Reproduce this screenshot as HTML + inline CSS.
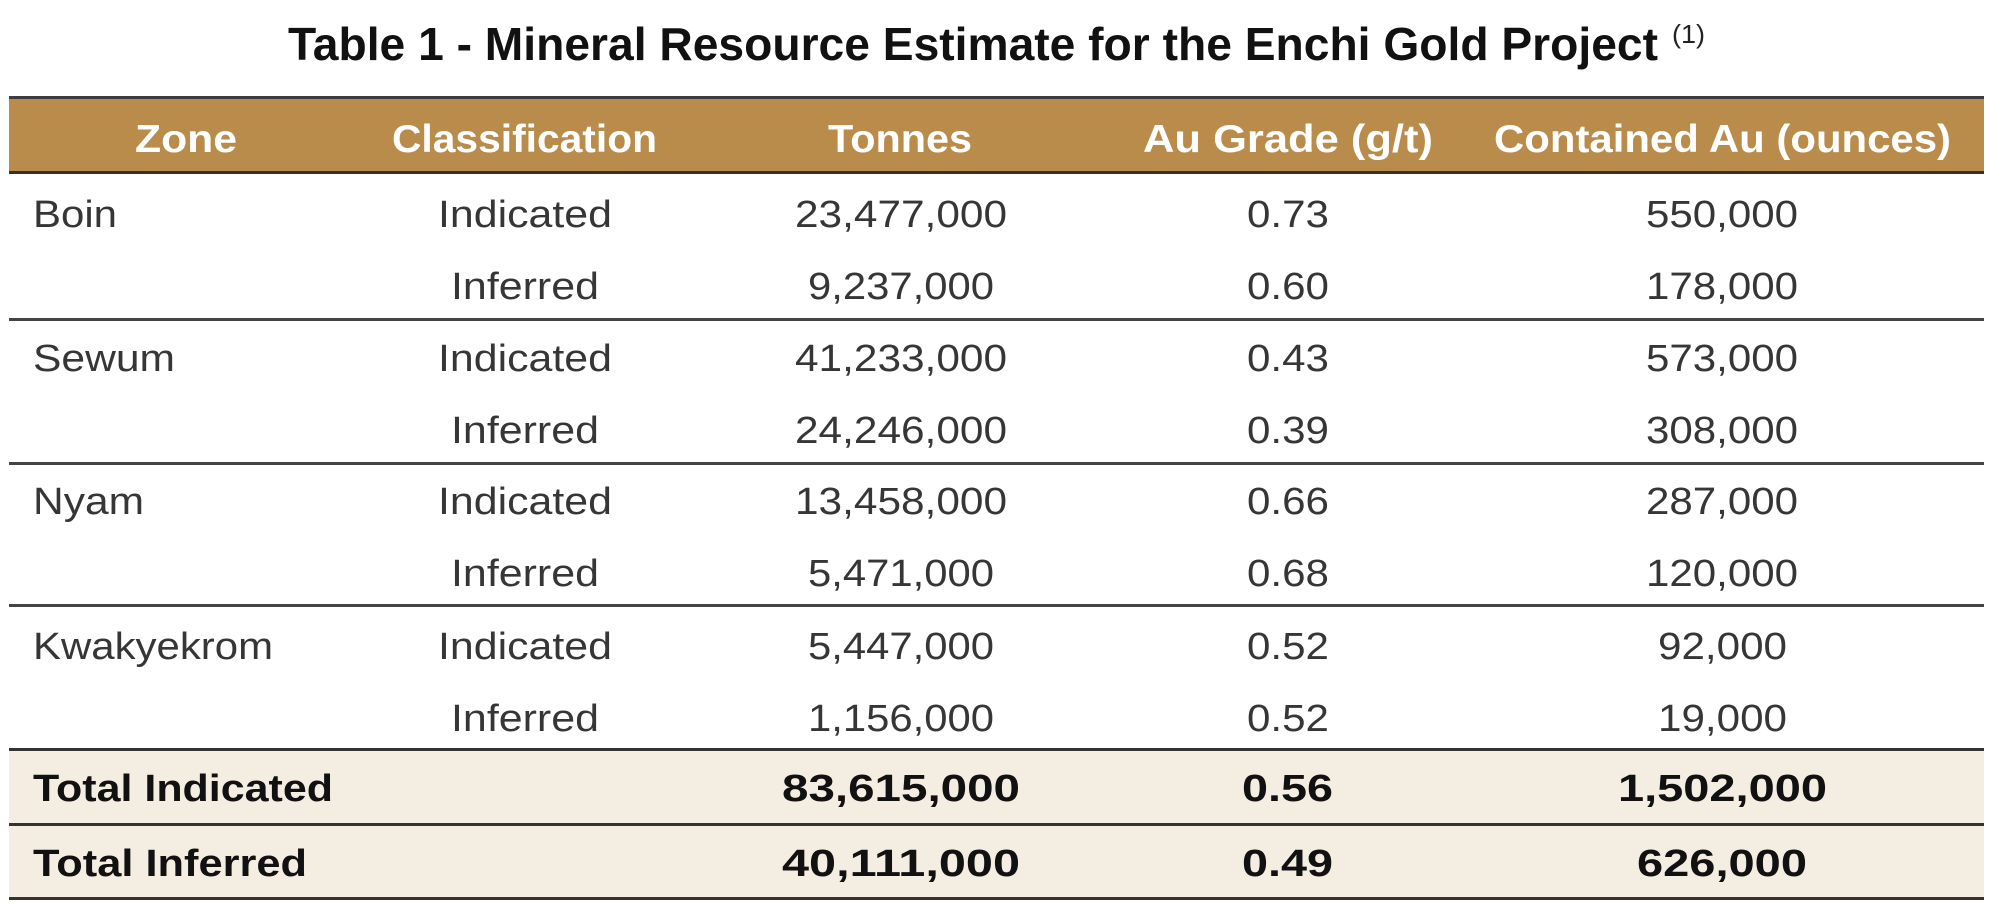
<!DOCTYPE html>
<html>
<head>
<meta charset="utf-8">
<style>
  html, body { margin: 0; padding: 0; background: #ffffff; }
  body { width: 1990px; height: 906px; overflow: hidden; }
  svg { display: block; }
  .t { font-family: "Liberation Sans", Arial, sans-serif; }
  .reg { font-size: 38px; fill: #363636; }
  .bld { font-size: 38px; font-weight: bold; fill: #111111; }
  .hdr { font-size: 39px; font-weight: bold; fill: #ffffff; }
</style>
</head>
<body>
<svg width="1990" height="906" viewBox="0 0 1990 906" xmlns="http://www.w3.org/2000/svg">
  <rect x="0" y="0" width="1990" height="906" fill="#ffffff"/>

  <!-- Title -->
  <text class="t" x="288" y="60" font-size="46" font-weight="bold" fill="#111" textLength="1370" lengthAdjust="spacingAndGlyphs">Table 1 - Mineral Resource Estimate for the Enchi Gold Project</text>
  <text class="t" x="1672" y="43" font-size="26" fill="#222" textLength="33" lengthAdjust="spacingAndGlyphs">(1)</text>

  <!-- Header band -->
  <rect x="9" y="96" width="1975" height="78" fill="#BA8C4B"/>
  <rect x="9" y="96" width="1975" height="3" fill="#3c3c3c"/>
  <rect x="9" y="171" width="1975" height="3" fill="#3a3024"/>

  <text class="t hdr" x="135" y="152" textLength="102" lengthAdjust="spacingAndGlyphs">Zone</text>
  <text class="t hdr" x="392" y="152" textLength="265" lengthAdjust="spacingAndGlyphs">Classification</text>
  <text class="t hdr" x="828" y="152" textLength="144" lengthAdjust="spacingAndGlyphs">Tonnes</text>
  <text class="t hdr" x="1143" y="152" textLength="290" lengthAdjust="spacingAndGlyphs">Au Grade (g/t)</text>
  <text class="t hdr" x="1494" y="152" textLength="457" lengthAdjust="spacingAndGlyphs">Contained Au (ounces)</text>

  <!-- Totals background -->
  <rect x="9" y="750" width="1975" height="150" fill="#F4EEE2"/>

  <!-- Separator lines -->
  <rect x="9" y="318" width="1975" height="3" fill="#444"/>
  <rect x="9" y="462" width="1975" height="3" fill="#444"/>
  <rect x="9" y="604" width="1975" height="3" fill="#444"/>
  <rect x="9" y="748" width="1975" height="3" fill="#333"/>
  <rect x="9" y="823" width="1975" height="3" fill="#333"/>
  <rect x="9" y="897" width="1975" height="3" fill="#333"/>

  <!-- Boin -->
  <text class="t reg" x="33" y="227" textLength="84" lengthAdjust="spacingAndGlyphs">Boin</text>
  <text class="t reg" x="438" y="227" textLength="174" lengthAdjust="spacingAndGlyphs">Indicated</text>
  <text class="t reg" x="795" y="227" textLength="212" lengthAdjust="spacingAndGlyphs">23,477,000</text>
  <text class="t reg" x="1247" y="227" textLength="82" lengthAdjust="spacingAndGlyphs">0.73</text>
  <text class="t reg" x="1646" y="227" textLength="152" lengthAdjust="spacingAndGlyphs">550,000</text>

  <text class="t reg" x="451" y="299" textLength="148" lengthAdjust="spacingAndGlyphs">Inferred</text>
  <text class="t reg" x="808" y="299" textLength="186" lengthAdjust="spacingAndGlyphs">9,237,000</text>
  <text class="t reg" x="1247" y="299" textLength="82" lengthAdjust="spacingAndGlyphs">0.60</text>
  <text class="t reg" x="1646" y="299" textLength="152" lengthAdjust="spacingAndGlyphs">178,000</text>

  <!-- Sewum -->
  <text class="t reg" x="33" y="371" textLength="142" lengthAdjust="spacingAndGlyphs">Sewum</text>
  <text class="t reg" x="438" y="371" textLength="174" lengthAdjust="spacingAndGlyphs">Indicated</text>
  <text class="t reg" x="795" y="371" textLength="212" lengthAdjust="spacingAndGlyphs">41,233,000</text>
  <text class="t reg" x="1247" y="371" textLength="82" lengthAdjust="spacingAndGlyphs">0.43</text>
  <text class="t reg" x="1646" y="371" textLength="152" lengthAdjust="spacingAndGlyphs">573,000</text>

  <text class="t reg" x="451" y="443" textLength="148" lengthAdjust="spacingAndGlyphs">Inferred</text>
  <text class="t reg" x="795" y="443" textLength="212" lengthAdjust="spacingAndGlyphs">24,246,000</text>
  <text class="t reg" x="1247" y="443" textLength="82" lengthAdjust="spacingAndGlyphs">0.39</text>
  <text class="t reg" x="1646" y="443" textLength="152" lengthAdjust="spacingAndGlyphs">308,000</text>

  <!-- Nyam -->
  <text class="t reg" x="33" y="514" textLength="111" lengthAdjust="spacingAndGlyphs">Nyam</text>
  <text class="t reg" x="438" y="514" textLength="174" lengthAdjust="spacingAndGlyphs">Indicated</text>
  <text class="t reg" x="795" y="514" textLength="212" lengthAdjust="spacingAndGlyphs">13,458,000</text>
  <text class="t reg" x="1247" y="514" textLength="82" lengthAdjust="spacingAndGlyphs">0.66</text>
  <text class="t reg" x="1646" y="514" textLength="152" lengthAdjust="spacingAndGlyphs">287,000</text>

  <text class="t reg" x="451" y="586" textLength="148" lengthAdjust="spacingAndGlyphs">Inferred</text>
  <text class="t reg" x="808" y="586" textLength="186" lengthAdjust="spacingAndGlyphs">5,471,000</text>
  <text class="t reg" x="1247" y="586" textLength="82" lengthAdjust="spacingAndGlyphs">0.68</text>
  <text class="t reg" x="1646" y="586" textLength="152" lengthAdjust="spacingAndGlyphs">120,000</text>

  <!-- Kwakyekrom -->
  <text class="t reg" x="33" y="659" textLength="240" lengthAdjust="spacingAndGlyphs">Kwakyekrom</text>
  <text class="t reg" x="438" y="659" textLength="174" lengthAdjust="spacingAndGlyphs">Indicated</text>
  <text class="t reg" x="808" y="659" textLength="186" lengthAdjust="spacingAndGlyphs">5,447,000</text>
  <text class="t reg" x="1247" y="659" textLength="82" lengthAdjust="spacingAndGlyphs">0.52</text>
  <text class="t reg" x="1658" y="659" textLength="129" lengthAdjust="spacingAndGlyphs">92,000</text>

  <text class="t reg" x="451" y="731" textLength="148" lengthAdjust="spacingAndGlyphs">Inferred</text>
  <text class="t reg" x="808" y="731" textLength="186" lengthAdjust="spacingAndGlyphs">1,156,000</text>
  <text class="t reg" x="1247" y="731" textLength="82" lengthAdjust="spacingAndGlyphs">0.52</text>
  <text class="t reg" x="1658" y="731" textLength="129" lengthAdjust="spacingAndGlyphs">19,000</text>

  <!-- Totals -->
  <text class="t bld" x="33" y="801" textLength="300" lengthAdjust="spacingAndGlyphs">Total Indicated</text>
  <text class="t bld" x="782" y="801" textLength="238" lengthAdjust="spacingAndGlyphs">83,615,000</text>
  <text class="t bld" x="1242" y="801" textLength="91" lengthAdjust="spacingAndGlyphs">0.56</text>
  <text class="t bld" x="1618" y="801" textLength="209" lengthAdjust="spacingAndGlyphs">1,502,000</text>

  <text class="t bld" x="33" y="876" textLength="274" lengthAdjust="spacingAndGlyphs">Total Inferred</text>
  <text class="t bld" x="782" y="876" textLength="238" lengthAdjust="spacingAndGlyphs">40,111,000</text>
  <text class="t bld" x="1242" y="876" textLength="91" lengthAdjust="spacingAndGlyphs">0.49</text>
  <text class="t bld" x="1637" y="876" textLength="170" lengthAdjust="spacingAndGlyphs">626,000</text>
</svg>
</body>
</html>
